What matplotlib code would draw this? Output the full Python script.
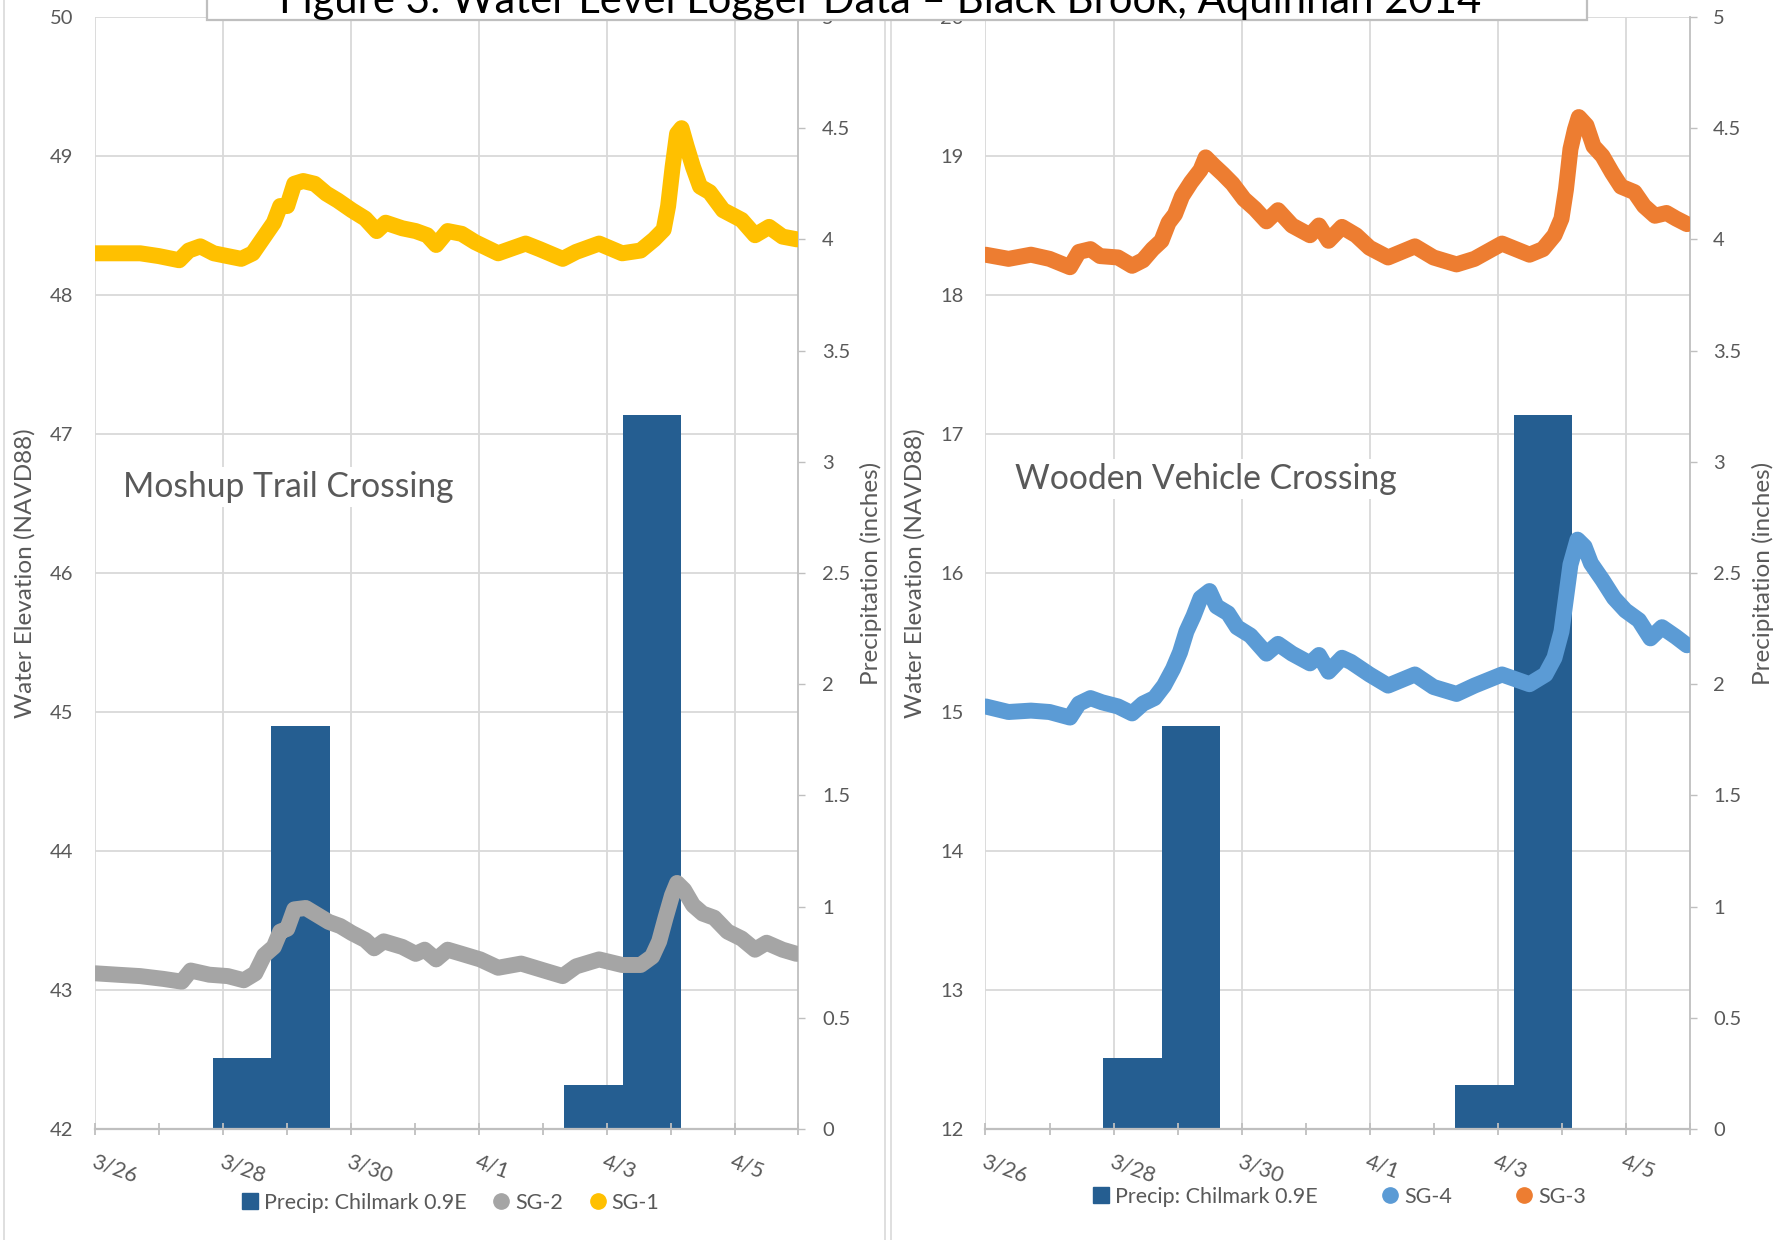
import numpy as np
import matplotlib
matplotlib.use("Agg")
import matplotlib.pyplot as plt
from matplotlib.lines import Line2D
from matplotlib.patches import Rectangle

plt.rcParams['font.family'] = ['Lato', 'DejaVu Sans']

# ---------------- data ----------------
TITLE = "Figure 3: Water Level Logger Data \u2013 Black Brook, Aquinnah 2014"
date_ticks = [0, 2, 4, 6, 8, 10]
date_labels = ["3/26", "3/28", "3/30", "4/1", "4/3", "4/5"]
minor_days = [1, 3, 5, 7, 9, 11]

precip_days = ["3/26", "3/27", "3/28", "3/29", "3/30", "3/31",
               "4/1", "4/2", "4/3", "4/4", "4/5", "4/6"]
precip_in = [0, 0, 0.32, 1.81, 0, 0, 0, 0, 0.20, 3.21, 0, 0]

# days after 3/26 00:00
sg1_t = [0.00, 0.34, 0.70, 0.99, 1.31, 1.46, 1.64, 1.85, 2.28, 2.46, 2.64, 2.79, 2.89, 3.00,
         3.11, 3.25, 3.43, 3.61, 3.79, 4.01, 4.22, 4.40, 4.54, 4.80, 5.01, 5.19, 5.33, 5.51,
         5.73, 5.94, 6.30, 6.73, 6.95, 7.31, 7.52, 7.88, 8.24, 8.53, 8.74, 8.89, 8.96, 9.03,
         9.10, 9.17, 9.25, 9.35, 9.46, 9.61, 9.82, 10.11, 10.32, 10.54, 10.75, 10.98]
sg1 = [48.30, 48.30, 48.30, 48.28, 48.25, 48.32, 48.35, 48.30, 48.26, 48.30, 48.42, 48.52,
       48.64, 48.64, 48.80, 48.82, 48.80, 48.73, 48.68, 48.61, 48.55, 48.46, 48.52, 48.48,
       48.46, 48.43, 48.36, 48.46, 48.44, 48.38, 48.30, 48.37, 48.33, 48.26, 48.31, 48.37,
       48.30, 48.32, 48.40, 48.47, 48.64, 48.92, 49.16, 49.20, 49.07, 48.92, 48.78, 48.74,
       48.61, 48.54, 48.43, 48.49, 48.42, 48.40]

sg2_t = [0.00, 0.34, 0.70, 1.06, 1.35, 1.49, 1.78, 2.07, 2.32, 2.50, 2.64, 2.79, 2.89, 3.00,
         3.11, 3.29, 3.47, 3.65, 3.83, 4.01, 4.22, 4.36, 4.51, 4.80, 5.01, 5.15, 5.33, 5.51,
         5.73, 6.02, 6.30, 6.66, 7.02, 7.31, 7.52, 7.88, 8.24, 8.53, 8.71, 8.82, 8.92, 9.02,
         9.10, 9.21, 9.35, 9.50, 9.68, 9.89, 10.11, 10.32, 10.50, 10.75, 10.97]
sg2 = [43.12, 43.11, 43.10, 43.08, 43.06, 43.14, 43.11, 43.10, 43.07, 43.12, 43.25, 43.31,
       43.42, 43.44, 43.58, 43.59, 43.54, 43.49, 43.46, 43.41, 43.36, 43.30, 43.35, 43.31,
       43.26, 43.29, 43.22, 43.29, 43.26, 43.22, 43.16, 43.19, 43.14, 43.10, 43.17, 43.22,
       43.18, 43.18, 43.24, 43.35, 43.52, 43.68, 43.77, 43.72, 43.61, 43.55, 43.52, 43.42,
       43.37, 43.29, 43.34, 43.29, 43.26]

sg3_t = [0.00, 0.36, 0.71, 1.00, 1.32, 1.46, 1.64, 1.79, 2.07, 2.29, 2.46, 2.61, 2.75, 2.86,
         2.96, 3.07, 3.21, 3.36, 3.44, 3.57, 3.71, 3.86, 4.04, 4.21, 4.39, 4.57, 4.79, 5.07,
         5.21, 5.36, 5.57, 5.79, 6.00, 6.29, 6.71, 7.00, 7.36, 7.64, 8.07, 8.50, 8.71, 8.89,
         9.00, 9.07, 9.14, 9.21, 9.27, 9.39, 9.50, 9.64, 9.79, 9.93, 10.14, 10.29, 10.46,
         10.64, 10.79, 10.96]
sg3 = [18.29, 18.26, 18.29, 18.26, 18.20, 18.31, 18.33, 18.28, 18.27, 18.21, 18.25, 18.33,
       18.39, 18.52, 18.58, 18.71, 18.81, 18.90, 18.99, 18.93, 18.87, 18.80, 18.69, 18.62,
       18.53, 18.61, 18.50, 18.43, 18.50, 18.39, 18.49, 18.43, 18.34, 18.27, 18.35, 18.27,
       18.22, 18.26, 18.37, 18.29, 18.33, 18.43, 18.55, 18.76, 19.05, 19.19, 19.28, 19.22,
       19.07, 19.00, 18.88, 18.78, 18.74, 18.64, 18.57, 18.59, 18.55, 18.51]

sg4_t = [0.00, 0.36, 0.71, 1.00, 1.32, 1.46, 1.64, 1.82, 2.07, 2.29, 2.46, 2.64, 2.79, 2.93,
         3.04, 3.14, 3.25, 3.36, 3.50, 3.61, 3.79, 3.93, 4.14, 4.39, 4.57, 4.79, 5.07, 5.21,
         5.36, 5.57, 5.71, 6.00, 6.29, 6.71, 7.00, 7.36, 7.64, 8.07, 8.50, 8.75, 8.89, 9.00,
         9.07, 9.14, 9.25, 9.36, 9.46, 9.64, 9.82, 10.00, 10.21, 10.39, 10.57, 10.79, 10.96]
sg4 = [15.04, 15.00, 15.01, 15.00, 14.96, 15.06, 15.10, 15.07, 15.04, 14.99, 15.06, 15.10,
       15.19, 15.31, 15.43, 15.58, 15.69, 15.82, 15.87, 15.76, 15.71, 15.61, 15.55, 15.42,
       15.49, 15.42, 15.35, 15.41, 15.29, 15.39, 15.36, 15.27, 15.19, 15.27, 15.18, 15.13,
       15.19, 15.27, 15.20, 15.27, 15.39, 15.58, 15.82, 16.06, 16.24, 16.19, 16.07, 15.95,
       15.82, 15.73, 15.66, 15.53, 15.61, 15.54, 15.48]

# ---------------- style ----------------
W, H = 1783, 1240
GRID = '#D9D9D9'
AXC = '#BFBFBF'
TXT = '#595959'
BAR = '#255E91'
C_SG1, C_SG2, C_SG3, C_SG4 = '#FFC000', '#A5A5A5', '#ED7D31', '#5B9BD5'

fig = plt.figure(figsize=(W / 100, H / 100), dpi=100)
fig.patch.set_facecolor('white')


def px(x0, y0, x1, y1):
    return [x0 / W, 1 - y1 / H, (x1 - x0) / W, (y1 - y0) / H]


def panel(rect, ylim, series, site, site_xy, leg_order, leg_xy, colspace, tag):
    ax_w = fig.add_axes(rect, label=tag + 'w')
    ax_p = fig.add_axes(rect, label=tag + 'p')
    ax_l = fig.add_axes(rect, label=tag + 'l', sharex=ax_w, sharey=ax_w)
    ax_w.set_zorder(1); ax_p.set_zorder(2); ax_l.set_zorder(3)
    ax_p.patch.set_visible(False)
    ax_l.patch.set_visible(False)

    # water-elevation base axes (grid + left labels)
    ax_w.set_xlim(0, 11)
    ax_w.set_ylim(*ylim)
    ax_w.set_yticks(np.arange(ylim[0], ylim[1] + 1, 1))
    ax_w.set_xticks(date_ticks)
    ax_w.set_xticks(minor_days, minor=True)
    ax_w.grid(True, which='major', color=GRID, lw=1.3)
    ax_w.set_axisbelow(True)
    for s in ax_w.spines.values():
        s.set_visible(False)
    ax_w.tick_params(axis='x', which='both', bottom=False, labelbottom=False)
    ax_w.tick_params(axis='y', length=0, pad=16, labelsize=14.5, labelcolor=TXT)
    ax_w.set_ylabel('Water Elevation (NAVD88)', fontsize=17.5, color=TXT)
    ax_w.yaxis.set_label_coords(-0.0846, 0.5)

    # precipitation axes
    cats = np.arange(len(precip_days))
    ax_p.bar(cats, precip_in, width=1.0, color=BAR, edgecolor='none')
    ax_p.set_xlim(-0.5, len(precip_days) - 0.5)
    ax_p.set_ylim(0, 5)
    ax_p.yaxis.tick_right()
    ax_p.yaxis.set_label_position('right')
    pt = np.arange(0, 5.01, 0.5)
    ax_p.set_yticks(pt)
    ax_p.set_yticklabels([('%g' % v) for v in pt])
    ax_p.tick_params(axis='y', direction='out', length=5, width=1, color=AXC,
                     pad=12, labelsize=14.5, labelcolor=TXT)
    ax_p.tick_params(axis='x', bottom=False, labelbottom=False)
    for k, s in ax_p.spines.items():
        s.set_visible(k == 'right')
    ax_p.spines['right'].set_color(AXC)
    ax_p.spines['right'].set_linewidth(1.3)
    ax_p.set_ylabel('Precipitation (inches)', fontsize=17.5, color=TXT)
    ax_p.yaxis.set_label_coords(1.088, 0.5)

    # lines axes
    handles = {}
    for name, t, v, c in series:
        ax_l.plot(t, v, color=c, lw=11.5, solid_capstyle='round',
                  solid_joinstyle='round')
        handles[name] = Line2D([], [], ls='', marker='o', markersize=11,
                               color=c, markeredgecolor=c)
    for k, s in ax_l.spines.items():
        s.set_visible(k == 'bottom')
    ax_l.spines['bottom'].set_color(AXC)
    ax_l.spines['bottom'].set_linewidth(1.6)
    ax_l.tick_params(axis='y', which='both', left=False, labelleft=False)
    ax_l.tick_params(axis='x', which='both', direction='inout', length=9, width=1.3,
                     color=AXC, pad=12, labelsize=15.5, labelcolor=TXT)
    ax_l.set_xticks(date_ticks)
    ax_l.set_xticklabels(date_labels, rotation=-20, ha='left', va='top',
                         rotation_mode='anchor')
    ax_l.set_xticks(minor_days, minor=True)

    fig.text(site_xy[0] / W, 1 - site_xy[1] / H, site, fontsize=24.2, color=TXT,
             ha='left', va='center', zorder=5,
             bbox=dict(facecolor='white', edgecolor='none', pad=3))

    handles['Precip: Chilmark 0.9E'] = Line2D([], [], ls='', marker='s', markersize=11,
                                              color=BAR, markeredgecolor=BAR)
    fig.legend([handles[n] for n in leg_order], leg_order, loc='center',
               bbox_to_anchor=(leg_xy[0] / W, 1 - leg_xy[1] / H), ncol=3,
               frameon=False, fontsize=15.5, labelcolor=TXT, handlelength=0.7,
               handletextpad=0.3, columnspacing=colspace, borderaxespad=0)


panel(px(95.5, 17, 798.5, 1129), (42, 50),
      [('SG-2', sg2_t, sg2, C_SG2), ('SG-1', sg1_t, sg1, C_SG1)],
      'Moshup Trail Crossing', (123, 487),
      ['Precip: Chilmark 0.9E', 'SG-2', 'SG-1'], (451, 1203), 1.25, 'L')
panel(px(985.5, 17, 1689.5, 1129), (12, 20),
      [('SG-4', sg4_t, sg4, C_SG4), ('SG-3', sg3_t, sg3, C_SG3)],
      'Wooden Vehicle Crossing', (1015, 479),
      ['Precip: Chilmark 0.9E', 'SG-4', 'SG-3'], (1340, 1197), 3.0, 'R')

# chart-area borders
for xb in (4, 885, 891):
    fig.add_artist(Line2D([xb / W, xb / W], [0, 1], color=GRID, lw=1.2, zorder=0.5))

# title box (partially cut off at the top)
fig.add_artist(Rectangle((207 / W, 1 - 20 / H), (1587 - 207) / W, 60 / H,
                         facecolor='white', edgecolor=AXC, lw=1.6, zorder=10))
title = fig.text(279 / W, 1 - 13 / H, TITLE, fontsize=28, ha='left', va='baseline',
                 color='black', zorder=11)
fig.canvas.draw()
w = title.get_window_extent().width
title.set_fontsize(28 * 1200 / w)

fig.savefig('out.png', dpi=100, facecolor='white')
